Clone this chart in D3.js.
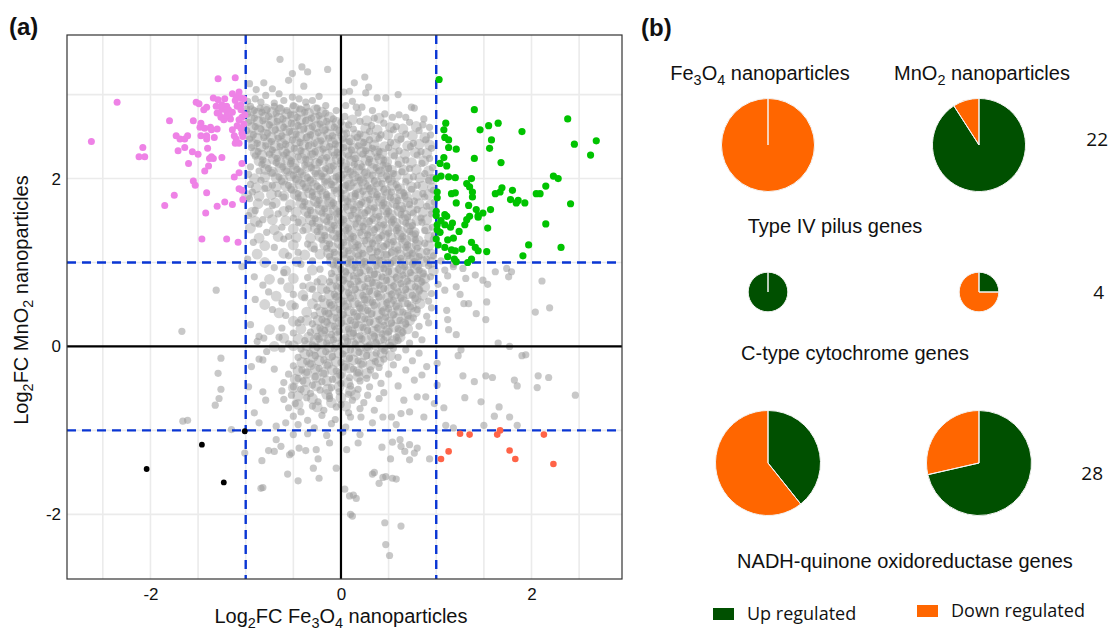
<!DOCTYPE html>
<html>
<head>
<meta charset="utf-8">
<script src="https://cdn.jsdelivr.net/npm/d3@7"></script>
<style>
  body { margin: 0; background: #fff; }
  svg text { font-family: "Liberation Sans", Arial, sans-serif; fill: #111; }
  svg text.num { font-family: "Open Sans", sans-serif; }
</style>
</head>
<body>
<svg id="chart" width="1110" height="630"></svg>
<script>
// ---- panel (a): log2 fold changes, [Fe3O4, MnO2] ----
var grayPts = [
  [-0.64,3.42],[-0.41,3.33],[-0.14,3.30],[-0.35,3.27],[-0.51,3.25],[0.25,3.21],[-0.55,3.17],[-0.81,3.14],[0.14,3.14],[-0.96,3.13],
  [-0.39,3.10],[-0.89,3.06],[-0.72,3.07],[0.29,3.09],[0.09,3.04],[0.03,3.03],[0.26,3.02],[-0.65,3.01],[0.60,3.00],
  [-0.23,2.98],[-0.79,2.99],[-0.51,2.97],[-0.37,2.91],[-0.30,2.93],[0.38,2.96],[0.47,2.96],[-0.90,2.95],[-0.98,2.92],[-0.60,2.93],[-0.70,2.90],[-0.44,2.95],[-0.84,2.91],[0.12,2.92],
  [-0.16,2.87],[0.05,2.87],[0.16,2.85],[0.22,2.85],[0.74,2.85],[0.77,2.84],[-0.43,2.83],[-0.57,2.81],[-0.05,2.81],[0.33,2.81],[-0.95,2.86],[-0.85,2.84],[-0.70,2.86],[-0.25,2.84],[-0.78,2.82],[-0.64,2.84],[-0.50,2.87],[-0.36,2.85],[-0.91,2.81],[-0.99,2.83],
  [-0.98,2.77],[-0.91,2.72],[-0.83,2.79],[-0.76,2.74],[-0.68,2.78],[-0.61,2.71],[-0.53,2.76],[-0.46,2.73],[-0.38,2.79],[-0.31,2.72],[-0.23,2.75],[-0.16,2.78],[-0.08,2.71],[0.04,2.74],[0.18,2.78],[0.35,2.72],[0.46,2.77],[0.54,2.73],[0.61,2.76],[0.68,2.73],[0.87,2.71],
  [-0.97,2.67],[-0.90,2.62],[-0.82,2.69],[-0.75,2.64],[-0.67,2.68],[-0.60,2.61],[-0.52,2.66],[-0.45,2.63],[-0.37,2.69],[-0.30,2.62],[-0.22,2.65],[-0.15,2.68],[-0.07,2.61],[0.00,2.67],[0.08,2.64],[0.20,2.68],[0.32,2.63],[0.45,2.66],[0.58,2.62],[0.72,2.67],[0.86,2.64],[0.93,2.61],
  [-0.99,2.57],[-0.92,2.52],[-0.84,2.59],[-0.77,2.54],[-0.69,2.58],[-0.62,2.51],[-0.54,2.56],[-0.47,2.53],[-0.39,2.59],[-0.32,2.52],[-0.24,2.55],[-0.17,2.58],[-0.09,2.51],[-0.02,2.57],[0.06,2.54],[0.13,2.59],[0.20,2.53],[0.30,2.56],[0.42,2.52],[0.55,2.58],[0.68,2.53],[0.82,2.57],[0.94,2.52],
  [-0.96,2.47],[-0.88,2.42],[-0.81,2.49],[-0.73,2.44],[-0.66,2.48],[-0.58,2.41],[-0.51,2.46],[-0.43,2.43],[-0.36,2.49],[-0.28,2.42],[-0.21,2.45],[-0.13,2.48],[-0.06,2.41],[0.02,2.47],[0.09,2.44],[0.17,2.49],[0.24,2.43],[0.30,2.46],[0.40,2.48],[0.52,2.43],[0.63,2.47],[0.76,2.42],[0.89,2.46],
  [-0.94,2.37],[-0.87,2.32],[-0.79,2.39],[-0.72,2.34],[-0.64,2.38],[-0.57,2.31],[-0.49,2.36],[-0.42,2.33],[-0.34,2.39],[-0.27,2.32],[-0.19,2.35],[-0.12,2.38],[-0.04,2.31],[0.03,2.37],[0.11,2.34],[0.18,2.39],[0.26,2.33],[0.33,2.36],[0.40,2.32],[0.50,2.37],[0.61,2.33],[0.73,2.38],[0.84,2.32],[0.95,2.36],
  [-0.90,2.27],[-0.82,2.22],[-0.75,2.29],[-0.67,2.24],[-0.60,2.28],[-0.52,2.21],[-0.45,2.26],[-0.37,2.23],[-0.30,2.29],[-0.22,2.22],[-0.15,2.25],[-0.07,2.28],[0.00,2.21],[0.08,2.27],[0.15,2.24],[0.23,2.29],[0.30,2.23],[0.38,2.26],[0.45,2.22],[0.56,2.27],[0.68,2.22],[0.80,2.28],[0.93,2.24],
  [-0.83,2.17],[-0.76,2.12],[-0.68,2.19],[-0.61,2.14],[-0.53,2.18],[-0.46,2.11],[-0.38,2.16],[-0.31,2.13],[-0.23,2.19],[-0.16,2.12],[-0.08,2.15],[-0.01,2.18],[0.07,2.11],[0.14,2.17],[0.22,2.14],[0.29,2.19],[0.37,2.13],[0.44,2.16],[0.50,2.12],[0.60,2.17],[0.72,2.12],[0.85,2.18],[0.96,2.13],[-0.95,2.14],
  [-0.72,2.07],[-0.65,2.02],[-0.57,2.09],[-0.50,2.04],[-0.42,2.08],[-0.35,2.01],[-0.27,2.06],[-0.20,2.03],[-0.12,2.09],[-0.05,2.02],[0.03,2.05],[0.10,2.08],[0.18,2.01],[0.25,2.07],[0.33,2.04],[0.40,2.09],[0.48,2.03],[0.55,2.06],[0.64,2.08],[0.76,2.02],[0.88,2.06],[0.97,2.01],[-0.97,2.05],[-0.86,2.09],
  [-0.62,1.97],[-0.55,1.92],[-0.47,1.99],[-0.40,1.94],[-0.32,1.98],[-0.25,1.91],[-0.17,1.96],[-0.10,1.93],[-0.02,1.99],[0.05,1.92],[0.13,1.95],[0.20,1.98],[0.28,1.91],[0.35,1.97],[0.43,1.94],[0.50,1.99],[0.58,1.93],[0.68,1.96],[0.80,1.92],[0.92,1.98],[-0.95,1.93],[-0.84,1.98],[-0.72,1.92],
  [-0.52,1.87],[-0.45,1.82],[-0.37,1.89],[-0.30,1.84],[-0.22,1.88],[-0.15,1.81],[-0.07,1.86],[0.00,1.83],[0.08,1.89],[0.15,1.82],[0.23,1.85],[0.30,1.88],[0.38,1.81],[0.45,1.87],[0.53,1.84],[0.60,1.89],[0.66,1.83],[0.74,1.87],[0.86,1.82],[0.97,1.86],[-0.93,1.84],[-0.80,1.88],[-0.66,1.82],
  [-0.45,1.77],[-0.38,1.72],[-0.30,1.79],[-0.23,1.74],[-0.15,1.78],[-0.08,1.71],[0.00,1.76],[0.07,1.73],[0.15,1.79],[0.22,1.72],[0.30,1.75],[0.37,1.78],[0.45,1.71],[0.52,1.77],[0.60,1.74],[0.67,1.79],[0.77,1.73],[0.88,1.78],[0.98,1.72],[-0.96,1.76],[-0.78,1.72],[-0.60,1.78],
  [-0.40,1.67],[-0.32,1.62],[-0.25,1.69],[-0.17,1.64],[-0.10,1.68],[-0.02,1.61],[0.05,1.66],[0.13,1.63],[0.20,1.69],[0.28,1.62],[0.35,1.65],[0.43,1.68],[0.50,1.61],[0.58,1.67],[0.65,1.64],[0.72,1.69],[0.80,1.63],[0.90,1.67],[-0.90,1.62],[-0.72,1.68],[-0.55,1.64],
  [-0.35,1.57],[-0.27,1.52],[-0.20,1.59],[-0.12,1.54],[-0.05,1.58],[0.03,1.51],[0.10,1.56],[0.18,1.53],[0.25,1.59],[0.33,1.52],[0.40,1.55],[0.48,1.58],[0.55,1.51],[0.63,1.57],[0.70,1.54],[0.76,1.59],[0.84,1.53],[0.95,1.58],[-0.97,1.56],[-0.82,1.51],[-0.66,1.58],[-0.50,1.53],
  [-0.30,1.47],[-0.22,1.42],[-0.15,1.49],[-0.07,1.44],[0.00,1.48],[0.08,1.41],[0.15,1.46],[0.23,1.43],[0.30,1.49],[0.38,1.42],[0.45,1.45],[0.53,1.48],[0.60,1.41],[0.68,1.47],[0.75,1.44],[0.85,1.48],[0.96,1.42],[-0.86,1.46],[-0.62,1.42],[-0.45,1.48],
  [-0.25,1.37],[-0.17,1.32],[-0.10,1.39],[-0.02,1.34],[0.05,1.38],[0.13,1.31],[0.20,1.36],[0.28,1.33],[0.35,1.39],[0.43,1.32],[0.50,1.35],[0.58,1.38],[0.65,1.31],[0.72,1.37],[0.78,1.34],[0.88,1.38],[0.98,1.33],[-0.78,1.36],[-0.55,1.31],[-0.40,1.38],
  [-0.20,1.27],[-0.12,1.22],[-0.05,1.29],[0.03,1.24],[0.10,1.28],[0.18,1.21],[0.25,1.26],[0.33,1.23],[0.40,1.29],[0.48,1.22],[0.55,1.25],[0.63,1.28],[0.70,1.21],[0.78,1.27],[0.88,1.23],[0.97,1.28],[-0.92,1.24],[-0.60,1.28],[-0.35,1.22],
  [-0.15,1.17],[-0.07,1.12],[0.00,1.19],[0.08,1.14],[0.15,1.18],[0.23,1.11],[0.30,1.16],[0.38,1.13],[0.45,1.19],[0.53,1.12],[0.60,1.15],[0.68,1.18],[0.75,1.11],[0.80,1.17],[0.90,1.13],[-0.70,1.18],[-0.45,1.12],[-0.28,1.16],
  [-0.12,1.07],[-0.05,1.02],[0.03,1.09],[0.10,1.04],[0.18,1.08],[0.25,1.01],[0.33,1.06],[0.40,1.03],[0.48,1.09],[0.55,1.02],[0.63,1.05],[0.70,1.08],[0.77,1.01],[0.82,1.07],[0.90,1.04],[0.97,1.08],[1.05,1.02],[1.18,0.98],[-0.98,1.04],[-0.55,1.08],[-0.30,1.02],
  [-0.08,0.97],[0.00,0.92],[0.07,0.99],[0.15,0.94],[0.22,0.98],[0.30,0.91],[0.37,0.96],[0.45,0.93],[0.52,0.99],[0.60,0.92],[0.67,0.95],[0.75,0.98],[0.82,0.91],[0.92,0.96],[1.09,0.91],[1.18,0.95],[1.28,0.93],[1.41,0.85],[1.62,0.89],[1.74,0.93],[1.79,0.89],[1.76,0.83],[-0.70,0.94],[-0.42,0.98],[-0.22,0.92],[-1.04,0.95],
  [-0.10,0.87],[-0.02,0.82],[0.05,0.89],[0.13,0.84],[0.20,0.88],[0.28,0.81],[0.35,0.86],[0.43,0.83],[0.50,0.89],[0.58,0.82],[0.65,0.85],[0.73,0.88],[0.80,0.81],[0.86,0.87],[0.94,0.83],[1.31,0.81],[1.49,0.79],[1.12,0.84],[-0.91,0.83],[-0.60,0.88],[-0.35,0.82],
  [-0.12,0.77],[-0.05,0.72],[0.03,0.79],[0.10,0.74],[0.18,0.78],[0.25,0.71],[0.33,0.76],[0.40,0.73],[0.48,0.79],[0.55,0.72],[0.63,0.75],[0.70,0.78],[0.78,0.71],[0.85,0.77],[1.02,0.74],[1.54,0.74],[2.11,0.78],[1.21,0.71],[-0.82,0.73],[-0.63,0.78],[-0.40,0.72],[-0.25,0.77],
  [-0.15,0.67],[-0.07,0.62],[0.00,0.69],[0.08,0.64],[0.15,0.68],[0.23,0.61],[0.30,0.66],[0.38,0.63],[0.45,0.69],[0.53,0.62],[0.60,0.65],[0.68,0.68],[0.75,0.61],[0.82,0.67],[0.95,0.63],[1.09,0.67],[1.25,0.62],[-1.31,0.67],[-0.76,0.65],[-0.50,0.62],[-0.30,0.68],
  [-0.20,0.57],[-0.12,0.52],[-0.05,0.59],[0.03,0.54],[0.10,0.58],[0.18,0.51],[0.25,0.56],[0.33,0.53],[0.40,0.59],[0.48,0.52],[0.55,0.55],[0.63,0.58],[0.70,0.51],[0.78,0.57],[0.92,0.54],[1.29,0.51],[1.34,0.51],[1.53,0.53],[-0.90,0.56],[-0.62,0.52],[-0.38,0.58],
  [-0.25,0.47],[-0.17,0.42],[-0.10,0.49],[-0.02,0.44],[0.05,0.48],[0.13,0.41],[0.20,0.46],[0.28,0.43],[0.35,0.49],[0.43,0.42],[0.50,0.45],[0.58,0.48],[0.65,0.41],[0.73,0.47],[0.80,0.44],[0.95,0.46],[1.11,0.43],[2.19,0.46],[2.04,0.41],[-0.72,0.44],[-0.48,0.48],
  [-0.28,0.37],[-0.20,0.32],[-0.13,0.39],[-0.05,0.34],[0.02,0.38],[0.10,0.31],[0.17,0.36],[0.25,0.33],[0.32,0.39],[0.40,0.32],[0.47,0.35],[0.55,0.38],[0.62,0.31],[0.70,0.37],[0.76,0.34],[0.90,0.36],[1.42,0.39],[1.12,0.32],[1.52,0.32],[-0.58,0.37],[-0.42,0.32],
  [-0.30,0.27],[-0.22,0.22],[-0.15,0.29],[-0.07,0.24],[0.00,0.28],[0.08,0.21],[0.15,0.26],[0.23,0.23],[0.30,0.29],[0.38,0.22],[0.45,0.25],[0.53,0.28],[0.60,0.21],[0.68,0.27],[0.82,0.24],[0.92,0.28],[1.13,0.20],[-0.95,0.26],[-0.62,0.22],[-0.45,0.28],
  [-0.32,0.17],[-0.25,0.12],[-0.17,0.19],[-0.10,0.14],[-0.02,0.18],[0.05,0.11],[0.13,0.16],[0.20,0.13],[0.28,0.19],[0.35,0.12],[0.43,0.15],[0.50,0.18],[0.58,0.11],[0.65,0.17],[0.78,0.14],[1.21,0.14],[-1.67,0.18],[-0.86,0.12],[-0.81,0.10],[-0.65,0.11],[-0.50,0.16],
  [-0.38,0.07],[-0.30,0.02],[-0.23,0.09],[-0.15,0.04],[-0.08,0.08],[0.00,0.01],[0.07,0.06],[0.15,0.03],[0.22,0.09],[0.30,0.02],[0.37,0.05],[0.45,0.08],[0.52,0.01],[0.60,0.07],[0.72,0.04],[0.85,0.08],[1.65,0.04],[1.77,0.00],[-0.88,0.06],[-0.55,0.03],
  [-0.42,-0.03],[-0.33,-0.08],[-0.25,-0.01],[-0.16,-0.06],[-0.07,-0.02],[0.02,-0.09],[0.10,-0.04],[0.19,-0.07],[0.28,-0.01],[0.37,-0.08],[0.46,-0.05],[0.55,-0.02],[-0.78,-0.06],[-0.62,-0.03],[0.68,-0.04],[0.82,-0.08],[1.26,-0.04],[1.23,-0.11],
  [-0.45,-0.13],[-0.36,-0.18],[-0.27,-0.11],[-0.18,-0.16],[-0.09,-0.12],[0.00,-0.19],[0.09,-0.14],[0.18,-0.17],[0.27,-0.11],[0.36,-0.18],[0.45,-0.15],[-1.26,-0.14],[-0.86,-0.15],[-0.82,-0.16],[0.60,-0.13],[0.75,-0.17],[1.90,-0.11],[1.94,-0.10],
  [-0.50,-0.23],[-0.41,-0.28],[-0.32,-0.21],[-0.23,-0.26],[-0.14,-0.22],[-0.05,-0.29],[0.04,-0.24],[0.13,-0.27],[0.22,-0.21],[0.31,-0.28],[0.40,-0.25],[-0.94,-0.24],[-0.70,-0.27],[0.55,-0.22],[0.68,-0.28],[0.90,-0.24],[1.01,-0.20],
  [-0.55,-0.33],[-0.45,-0.38],[-0.36,-0.31],[-0.27,-0.36],[-0.18,-0.32],[-0.09,-0.39],[0.00,-0.34],[0.09,-0.37],[0.18,-0.31],[0.27,-0.38],[0.36,-0.35],[-1.29,-0.32],[0.50,-0.33],[0.77,-0.40],[0.85,-0.34],[1.28,-0.35],[1.52,-0.35],[1.59,-0.37],[2.07,-0.35],[2.18,-0.37],
  [-0.60,-0.43],[-0.50,-0.48],[-0.40,-0.41],[-0.30,-0.46],[-0.20,-0.42],[-0.10,-0.49],[0.00,-0.44],[0.10,-0.47],[0.20,-0.41],[0.30,-0.48],[-0.97,-0.48],[0.42,-0.44],[0.60,-0.47],[1.01,-0.46],[1.40,-0.42],[1.82,-0.40],[1.85,-0.47],[2.06,-0.49],
  [-0.62,-0.53],[-0.52,-0.58],[-0.42,-0.51],[-0.32,-0.56],[-0.22,-0.52],[-0.12,-0.59],[-0.02,-0.54],[0.08,-0.57],[0.18,-0.51],[0.28,-0.58],[-1.26,-0.51],[-0.82,-0.54],[0.45,-0.55],[0.80,-0.60],[0.89,-0.60],[2.46,-0.58],[1.30,-0.61],
  [-0.60,-0.63],[-0.48,-0.68],[-0.36,-0.61],[-0.24,-0.66],[-0.12,-0.62],[0.00,-0.69],[0.12,-0.64],[0.24,-0.67],[-1.28,-0.62],[-0.79,-0.64],[0.40,-0.62],[0.66,-0.64],[0.98,-0.68],[1.47,-0.66],
  [-0.55,-0.73],[-0.42,-0.78],[-0.30,-0.71],[-0.18,-0.76],[-0.05,-0.72],[0.08,-0.79],[0.20,-0.74],[-1.32,-0.70],[0.35,-0.76],[0.63,-0.80],[0.72,-0.78],[1.08,-0.73],[1.66,-0.72],
  [-0.50,-0.83],[-0.35,-0.88],[-0.20,-0.82],[-0.06,-0.87],[0.10,-0.84],[-1.66,-0.89],[-1.61,-0.88],[-0.91,-0.79],[0.21,-0.84],[0.44,-0.84],[0.53,-0.84],[0.87,-0.84],[1.61,-0.83],[1.77,-0.84],
  [-0.45,-0.93],[-0.28,-0.97],[-0.10,-0.92],[0.05,-0.96],[-1.15,-0.99],[-0.86,-0.91],[-0.68,-0.95],[-0.58,-0.91],[0.33,-0.91],[0.58,-0.93],[1.10,-0.94],[1.18,-0.97],[1.50,-0.94],[1.85,-0.94],
  [-0.35,-1.04],[-0.15,-1.06],[0.02,-1.02],[0.20,-1.05],[-0.50,-1.05],[-1.01,-1.27],[-0.84,-1.69],[-0.83,-1.36],[-0.56,-1.52],[-0.45,-1.60],[-0.29,-1.45],[-0.24,-1.34],
  [-0.05,-1.45],[0.04,-1.70],[0.09,-1.78],[0.12,-2.02],[-0.76,-1.24],[-0.68,-1.11],[-0.54,-1.29],[-0.44,-1.21],[-0.37,-1.24],[-0.26,-1.23],[-0.70,-1.25],[-0.63,-1.19],
  [-0.52,-1.27],[-0.12,-1.15],[-0.23,-1.57],[-0.82,-1.68],[0.06,-1.23],[0.18,-1.15],[0.35,-1.50],[0.40,-1.63],[0.47,-1.55],[0.54,-1.57],[0.58,-1.58],[0.43,-1.20],
  [0.54,-1.14],[0.63,-1.19],[0.67,-1.25],[0.72,-1.35],[0.77,-1.27],[0.52,-1.34],[0.13,-1.77],[0.16,-1.81],[0.62,-1.11],[0.72,-1.17],[0.80,-1.21],[0.93,-1.34],
  [0.33,-1.52],[0.44,-1.56],[0.46,-2.10],[0.63,-2.14],[0.47,-2.36],[0.51,-2.49],[0.10,-2.00]
];

// second pass over the dense core of the cloud
var grayCore = [
  [-0.94,2.81],[-0.87,2.78],[-0.79,2.83],[-0.72,2.79],[-0.64,2.82],[-0.57,2.77],[-0.49,2.84],[-0.42,2.80],[-0.34,2.78],[-0.27,2.82],[-0.20,2.79],
  [-0.95,2.71],[-0.87,2.68],[-0.80,2.73],[-0.72,2.69],[-0.65,2.72],[-0.57,2.67],[-0.50,2.74],[-0.42,2.70],[-0.35,2.68],[-0.27,2.72],[-0.20,2.69],[-0.12,2.73],[-0.04,2.67],[0.12,2.70],[0.27,2.69],[0.40,2.72],
  [-0.93,2.61],[-0.86,2.58],[-0.78,2.63],[-0.71,2.59],[-0.63,2.62],[-0.56,2.57],[-0.48,2.64],[-0.41,2.60],[-0.33,2.58],[-0.26,2.62],[-0.18,2.59],[-0.11,2.63],[-0.03,2.57],[0.04,2.61],[0.26,2.60],[0.38,2.58],[0.52,2.61],[0.65,2.59],[0.79,2.62],
  [-0.95,2.51],[-0.88,2.48],[-0.80,2.53],[-0.73,2.49],[-0.65,2.52],[-0.58,2.47],[-0.50,2.54],[-0.43,2.50],[-0.35,2.48],[-0.28,2.52],[-0.20,2.49],[-0.13,2.53],[-0.05,2.47],[0.02,2.51],[0.10,2.46],[0.16,2.52],[0.25,2.50],[0.36,2.49],[0.49,2.52],[0.61,2.48],[0.75,2.51],[0.88,2.49],
  [-0.92,2.41],[-0.84,2.38],[-0.77,2.43],[-0.69,2.39],[-0.62,2.42],[-0.54,2.37],[-0.47,2.44],[-0.39,2.40],[-0.32,2.38],[-0.24,2.42],[-0.17,2.39],[-0.09,2.43],[-0.02,2.37],[0.06,2.41],[0.13,2.36],[0.21,2.42],[0.27,2.38],[0.35,2.40],[0.46,2.38],[0.57,2.41],[0.70,2.39],[0.82,2.41],[0.93,2.40],
  [-0.90,2.31],[-0.83,2.28],[-0.75,2.33],[-0.68,2.29],[-0.60,2.32],[-0.53,2.27],[-0.45,2.34],[-0.38,2.30],[-0.30,2.28],[-0.23,2.32],[-0.15,2.29],[-0.08,2.33],[0.00,2.27],[0.07,2.31],[0.15,2.26],[0.22,2.32],[0.30,2.28],[0.37,2.33],[0.43,2.30],[0.55,2.30],[0.67,2.29],[0.78,2.31],[0.90,2.30],
  [-0.86,2.21],[-0.79,2.18],[-0.71,2.23],[-0.64,2.19],[-0.56,2.22],[-0.49,2.17],[-0.41,2.24],[-0.34,2.20],[-0.26,2.18],[-0.19,2.22],[-0.11,2.19],[-0.04,2.23],[0.04,2.17],[0.11,2.21],[0.19,2.16],[0.26,2.22],[0.34,2.18],[0.41,2.23],[0.48,2.20],[0.62,2.20],[0.74,2.19],[0.87,2.21],
  [-0.79,2.11],[-0.72,2.08],[-0.64,2.13],[-0.57,2.09],[-0.49,2.12],[-0.42,2.07],[-0.34,2.14],[-0.27,2.10],[-0.19,2.08],[-0.12,2.12],[-0.04,2.09],[0.03,2.13],[0.11,2.07],[0.18,2.11],[0.26,2.06],[0.33,2.12],[0.41,2.08],[0.48,2.13],[0.53,2.10],[0.66,2.10],[0.79,2.11],[0.92,2.09],
  [-0.68,2.01],[-0.61,1.98],[-0.53,2.03],[-0.46,1.99],[-0.38,2.02],[-0.31,1.97],[-0.23,2.04],[-0.16,2.00],[-0.08,1.98],[-0.01,2.02],[0.07,1.99],[0.14,2.03],[0.22,1.97],[0.29,2.01],[0.37,1.96],[0.44,2.02],[0.52,1.98],[0.58,2.03],[0.70,2.00],[0.83,2.01],[0.94,1.99],[-0.91,2.00],[-0.80,2.02],
  [-0.58,1.91],[-0.51,1.88],[-0.43,1.93],[-0.36,1.89],[-0.28,1.92],[-0.21,1.87],[-0.13,1.94],[-0.06,1.90],[0.02,1.88],[0.09,1.92],[0.17,1.89],[0.24,1.93],[0.32,1.87],[0.39,1.91],[0.47,1.86],[0.54,1.92],[0.62,1.88],[0.74,1.90],[0.86,1.91],[0.96,1.89],[-0.89,1.89],[-0.78,1.91],[-0.68,1.90],
  [-0.48,1.81],[-0.41,1.78],[-0.33,1.83],[-0.26,1.79],[-0.18,1.82],[-0.11,1.77],[-0.03,1.84],[0.04,1.80],[0.12,1.78],[0.19,1.82],[0.27,1.79],[0.34,1.83],[0.42,1.77],[0.49,1.81],[0.57,1.76],[0.63,1.82],[0.69,1.78],[0.80,1.80],[0.92,1.81],[-0.99,1.80],[-0.86,1.79],[-0.73,1.81],[-0.60,1.79],
  [-0.42,1.71],[-0.34,1.68],[-0.27,1.73],[-0.19,1.69],[-0.12,1.72],[-0.04,1.67],[0.03,1.74],[0.11,1.70],[0.18,1.68],[0.26,1.72],[0.33,1.69],[0.41,1.73],[0.48,1.67],[0.56,1.71],[0.63,1.66],[0.70,1.72],[0.82,1.70],[0.94,1.69],[-0.87,1.70],[-0.69,1.71],[-0.53,1.69],
  [-0.37,1.61],[-0.29,1.58],[-0.22,1.63],[-0.14,1.59],[-0.07,1.62],[0.01,1.57],[0.08,1.64],[0.16,1.60],[0.23,1.58],[0.31,1.62],[0.38,1.59],[0.46,1.63],[0.53,1.57],[0.61,1.61],[0.68,1.56],[0.74,1.62],[0.86,1.60],[0.97,1.61],[-0.93,1.60],[-0.76,1.59],[-0.60,1.61],[-0.47,1.60],
  [-0.32,1.51],[-0.24,1.48],[-0.17,1.53],[-0.09,1.49],[-0.02,1.52],[0.06,1.47],[0.13,1.54],[0.21,1.50],[0.28,1.48],[0.36,1.52],[0.43,1.49],[0.51,1.53],[0.58,1.47],[0.66,1.51],[0.73,1.46],[0.80,1.50],[0.90,1.51],[-0.90,1.49],[-0.72,1.51],[-0.58,1.50],[-0.42,1.49],
  [-0.27,1.41],[-0.19,1.38],[-0.12,1.43],[-0.04,1.39],[0.03,1.42],[0.11,1.37],[0.18,1.44],[0.26,1.40],[0.33,1.38],[0.41,1.42],[0.48,1.39],[0.56,1.43],[0.63,1.37],[0.71,1.41],[0.77,1.36],[0.90,1.40],[-0.95,1.41],[-0.70,1.39],[-0.50,1.40],[-0.36,1.41],
  [-0.22,1.31],[-0.14,1.28],[-0.07,1.33],[0.01,1.29],[0.08,1.32],[0.16,1.27],[0.23,1.34],[0.31,1.30],[0.38,1.28],[0.46,1.32],[0.53,1.29],[0.61,1.33],[0.68,1.27],[0.75,1.31],[0.81,1.26],[0.93,1.30],[-0.86,1.29],[-0.66,1.31],[-0.47,1.30],[-0.32,1.29],
  [-0.17,1.21],[-0.09,1.18],[-0.02,1.23],[0.06,1.19],[0.13,1.22],[0.21,1.17],[0.28,1.24],[0.36,1.20],[0.43,1.18],[0.51,1.22],[0.58,1.19],[0.66,1.23],[0.73,1.17],[0.80,1.21],[0.92,1.20],[-0.80,1.20],[-0.50,1.21],[-0.30,1.19],
  [-0.13,1.11],[-0.05,1.08],[0.02,1.13],[0.10,1.09],[0.17,1.12],[0.25,1.07],[0.32,1.14],[0.40,1.10],[0.47,1.08],[0.55,1.12],[0.62,1.09],[0.70,1.13],[0.77,1.07],[0.84,1.11],[0.95,1.10],[-0.88,1.10],[-0.60,1.11],[-0.38,1.09],[-0.22,1.10],
  [-0.10,1.01],[-0.02,0.98],[0.05,1.03],[0.13,0.99],[0.20,1.02],[0.28,0.97],[0.35,1.04],[0.43,1.00],[0.50,0.98],[0.58,1.02],[0.65,0.99],[0.73,1.03],[0.80,0.97],[0.86,1.01],[0.95,1.00],[-0.80,1.00],[-0.46,1.01],
  [-0.05,0.91],[0.03,0.88],[0.10,0.93],[0.18,0.89],[0.25,0.92],[0.33,0.87],[0.40,0.94],[0.48,0.90],[0.55,0.88],[0.63,0.92],[0.70,0.89],[0.78,0.93],[0.85,0.87],[0.97,0.90],[-0.58,0.90],[-0.30,0.91],
  [-0.08,0.81],[0.00,0.78],[0.07,0.83],[0.15,0.79],[0.22,0.82],[0.30,0.77],[0.37,0.84],[0.45,0.80],[0.52,0.78],[0.60,0.82],[0.67,0.79],[0.75,0.83],[0.82,0.77],[0.88,0.81],[-0.75,0.80],[-0.50,0.81],[-0.20,0.79],
  [-0.10,0.71],[-0.02,0.68],[0.06,0.73],[0.13,0.69],[0.21,0.72],[0.28,0.67],[0.36,0.74],[0.43,0.70],[0.51,0.68],[0.58,0.72],[0.66,0.69],[0.73,0.73],[0.81,0.67],[0.88,0.71],[-0.55,0.70],[-0.32,0.71],[-0.20,0.69],
  [-0.12,0.61],[-0.04,0.58],[0.04,0.63],[0.11,0.59],[0.19,0.62],[0.26,0.57],[0.34,0.64],[0.41,0.60],[0.49,0.58],[0.56,0.62],[0.64,0.59],[0.71,0.63],[0.79,0.57],[0.86,0.61],[-0.68,0.60],[-0.40,0.61],[-0.25,0.59],
  [-0.17,0.51],[-0.09,0.48],[-0.01,0.53],[0.06,0.49],[0.14,0.52],[0.21,0.47],[0.29,0.54],[0.36,0.50],[0.44,0.48],[0.51,0.52],[0.59,0.49],[0.66,0.53],[0.74,0.47],[0.83,0.51],[-0.80,0.50],[-0.52,0.49],[-0.30,0.51],
  [-0.21,0.41],[-0.14,0.38],[-0.06,0.43],[0.01,0.39],[0.09,0.42],[0.16,0.37],[0.24,0.44],[0.31,0.40],[0.39,0.38],[0.46,0.42],[0.54,0.39],[0.61,0.43],[0.69,0.37],[0.78,0.41],[-0.65,0.40],[-0.36,0.41],
  [-0.24,0.31],[-0.16,0.28],[-0.09,0.33],[-0.01,0.29],[0.06,0.32],[0.14,0.27],[0.21,0.34],[0.29,0.30],[0.36,0.28],[0.44,0.32],[0.51,0.29],[0.59,0.33],[0.66,0.27],[0.72,0.31],[-0.50,0.30],[-0.36,0.31],
  [-0.26,0.21],[-0.19,0.18],[-0.11,0.23],[-0.04,0.19],[0.04,0.22],[0.11,0.17],[0.19,0.24],[0.26,0.20],[0.34,0.18],[0.41,0.22],[0.49,0.19],[0.56,0.23],[0.62,0.17],[0.70,0.21],[-0.75,0.20],[-0.42,0.21],
  [-0.34,0.11],[-0.27,0.08],[-0.19,0.13],[-0.12,0.09],[-0.04,0.12],[0.03,0.07],[0.11,0.14],[0.18,0.10],[0.26,0.08],[0.33,0.12],[0.41,0.09],[0.48,0.13],[0.55,0.07],[0.62,0.11],[-0.60,0.10],[-0.45,0.09],
  [-0.36,0.01],[-0.28,-0.02],[-0.20,0.03],[-0.12,-0.01],[-0.04,0.02],[0.04,-0.03],[0.12,0.04],[0.20,0.00],[0.28,-0.02],[0.36,0.02],[0.44,-0.01],[0.52,0.03],[-0.70,0.00],[-0.50,0.01],
  [-0.38,-0.09],[-0.29,-0.12],[-0.20,-0.07],[-0.11,-0.11],[-0.02,-0.08],[0.07,-0.13],[0.16,-0.06],[0.25,-0.10],[0.34,-0.12],[0.43,-0.08],[0.52,-0.11],
  [-0.41,-0.19],[-0.32,-0.22],[-0.23,-0.17],[-0.14,-0.21],[-0.05,-0.18],[0.04,-0.23],[0.13,-0.16],[0.22,-0.20],[0.31,-0.22],[0.40,-0.18],
  [-0.45,-0.29],[-0.36,-0.32],[-0.27,-0.27],[-0.18,-0.31],[-0.09,-0.28],[0.00,-0.33],[0.09,-0.26],[0.18,-0.30],[0.27,-0.32],
  [-0.48,-0.39],[-0.37,-0.42],[-0.26,-0.37],[-0.15,-0.41],[-0.04,-0.38],[0.07,-0.43],[0.18,-0.36],
  [-0.50,-0.49],[-0.38,-0.52],[-0.26,-0.47],[-0.14,-0.51],[-0.02,-0.48],[0.10,-0.53],
  [-0.45,-0.59],[-0.30,-0.62],[-0.15,-0.57],[0.00,-0.61],[0.15,-0.58],
  [-0.45,-0.69],[-0.25,-0.72],[-0.10,-0.67],[0.05,-0.71]
];

var pinkPts = [
  [-2.62,2.44],[-2.35,2.91],[-2.08,2.37],[-2.12,2.26],[-2.06,2.26],[-1.80,2.69],[-1.85,1.68],[-1.75,1.80],[-1.71,2.33],[-1.73,2.51],
  [-1.69,2.47],[-1.64,2.47],[-1.61,2.51],[-1.64,2.37],[-1.60,2.18],[-1.56,2.32],[-1.55,2.69],[-1.50,2.29],[-1.55,1.97],[-1.53,1.92],
  [-1.49,2.89],[-1.47,2.66],[-1.48,2.61],[-1.47,2.51],[-1.43,2.60],[-1.41,2.85],[-1.46,1.28],[-1.43,2.09],[-1.41,1.83],[-1.42,1.59],
  [-1.41,2.47],[-1.41,2.51],[-1.40,2.36],[-1.38,2.24],[-1.39,2.15],[-1.36,2.26],[-1.34,2.24],[-1.37,2.61],[-1.36,2.58],[-1.33,2.49],
  [-1.30,2.59],[-1.34,2.96],[-1.31,2.86],[-1.29,2.94],[-1.25,2.83],[-1.28,2.78],[-1.26,2.73],[-1.23,2.70],[-1.21,2.82],[-1.20,2.86],
  [-1.17,2.73],[-1.16,2.71],[-1.14,2.79],[-1.14,3.01],[-1.10,2.97],[-1.07,3.03],[-1.05,2.96],[-1.11,2.93],[-1.09,2.86],[-1.05,2.82],
  [-1.04,2.73],[-1.07,2.70],[-1.09,2.63],[-1.14,2.58],[-1.12,2.51],[-1.11,2.42],[-1.07,2.42],[-1.04,2.54],[-1.05,2.60],[-1.01,2.76],
  [-1.25,2.25],[-1.22,1.72],[-1.14,1.69],[-1.30,1.67],[-1.20,1.28],[-1.08,1.24],[-1.12,2.02],[-1.07,2.07],[-1.04,2.18],[-1.07,1.88],
  [-1.04,1.86],[-1.03,1.75],[-1.29,3.19],[-1.11,3.20],[-1.44,2.82],[-1.52,2.91],
  [-1.20,2.75],[-1.18,2.82],[-1.25,2.88],[-1.05,2.88],[-1.02,2.65],[-1.03,2.50],[-1.10,2.47],[-1.30,2.78],[-1.02,2.95],[-1.22,2.95]
];

var greenPts = [
  [1.03,3.18],[1.40,2.82],[1.10,2.66],[1.08,2.58],[1.09,2.49],[1.13,2.46],[1.13,2.37],[1.21,2.35],[1.08,2.25],[1.04,2.18],
  [1.11,2.15],[1.00,2.00],[1.05,2.03],[1.13,2.02],[1.20,2.01],[1.32,1.94],[1.37,2.00],[1.35,1.90],[1.38,1.84],[1.40,2.24],
  [1.46,2.58],[1.55,2.63],[1.65,2.66],[1.58,2.46],[1.56,2.36],[1.68,2.19],[1.90,2.56],[2.38,2.71],[2.45,2.41],[2.68,2.45],
  [2.62,2.28],[2.23,2.03],[2.28,2.00],[2.15,1.91],[2.05,1.82],[2.09,1.82],[2.41,1.70],[1.80,1.86],[1.69,1.89],[1.67,1.84],
  [1.62,1.82],[1.78,1.75],[1.86,1.74],[1.84,1.71],[1.93,1.71],[2.15,1.46],[1.97,1.21],[1.91,1.08],[2.31,1.18],[1.54,1.41],
  [1.57,1.63],[1.42,1.63],[1.49,1.59],[1.44,1.56],[1.44,1.54],[1.35,1.55],[1.32,1.51],[1.30,1.45],[1.34,1.68],[1.16,1.82],
  [1.20,1.83],[1.21,1.71],[1.01,1.84],[1.01,1.77],[1.00,1.61],[1.00,1.56],[1.09,1.57],[1.11,1.55],[1.05,1.50],[1.01,1.45],
  [1.09,1.45],[1.17,1.47],[1.15,1.42],[1.24,1.37],[1.18,1.29],[1.00,1.28],[1.02,1.21],[1.09,1.18],[1.12,1.27],[1.16,1.15],
  [1.20,1.14],[1.27,1.16],[1.12,1.07],[1.19,1.04],[1.21,1.01],[1.33,1.00],[1.37,1.04],[1.37,1.24],[1.41,1.18],[1.44,1.14],
  [1.53,1.13],[1.04,1.36],[1.01,1.39],[1.38,1.78]
];

var redPts = [
  [1.05,-1.34],[1.13,-1.25],[1.25,-1.04],[1.35,-1.05],[1.64,-1.05],[1.67,-1.00],[1.77,-1.24],[1.83,-1.34],[2.13,-1.05],[2.23,-1.40]
];

var blackPts = [
  [-2.04,-1.46],[-1.46,-1.17],[-1.23,-1.62],[-1.01,-1.01]
];

var xTicks = [-2, 0, 2];
var yTicks = [-2, 0, 2];
var cutoffs = [-1, 1];

// ---- panel (b): gene counts per group ----
var groups = ["Type IV pilus genes", "C-type cytochrome genes", "NADH-quinone oxidoreductase genes"];
var groupTotals = [22, 4, 28];
var fe3o4Up = [0, 4, 11];
var fe3o4Down = [22, 0, 17];
var mno2Up = [20, 1, 20];
var mno2Down = [2, 3, 8];
var conditions = ["Fe_{3}O_{4} nanoparticles", "MnO_{2} nanoparticles"];
var legendLabels = ["Up regulated", "Down regulated"];

var colUp = "#005000", colDown = "#ff6600";

var svg = d3.select("#chart");

// text with _{...} subscripts
function richText(t, str, size) {
  var parts = str.split(/_\{|\}/);
  var shift = Math.round(size * 0.25);
  parts.forEach(function(p, i) {
    var sub = i % 2 === 1;
    if (!p) return;
    t.append("tspan")
      .attr("font-size", sub ? size * 0.72 : size)
      .attr("dy", sub ? shift : (i > 0 ? -shift : 0))
      .text(p);
  });
  return t;
}

// ================= (a) scatter =================
var box = {left: 67, right: 622, top: 35, bottom: 579};
var x = d3.scaleLinear().domain([-2.876, 2.95]).range([box.left, box.right]);
var y = d3.scaleLinear().domain([-2.77, 3.71]).range([box.bottom, box.top]);

var pa = svg.append("g");

// grid
pa.append("g").selectAll("line")
  .data(d3.range(-2.5, 2.51, 0.5))
  .join("line")
    .attr("x1", d => x(d)).attr("x2", d => x(d))
    .attr("y1", box.top).attr("y2", box.bottom)
    .attr("stroke", "#ebebeb").attr("stroke-width", 1.6);
pa.append("g").selectAll("line")
  .data(d3.range(-2, 3.01, 1))
  .join("line")
    .attr("y1", d => y(d)).attr("y2", d => y(d))
    .attr("x1", box.left).attr("x2", box.right)
    .attr("stroke", "#ebebeb").attr("stroke-width", 1.6);

// gray points: the dense core drawn soft and wide so the heavy overlap reads as one mass
pa.append("g").selectAll("circle")
  .data(grayCore)
  .join("circle")
    .attr("cx", d => x(d[0])).attr("cy", d => y(d[1]))
    .attr("r", 5.4)
    .attr("fill", "#9a9a9a").attr("fill-opacity", 0.42);
pa.append("g").selectAll("circle")
  .data(grayPts)
  .join("circle")
    .attr("cx", d => x(d[0])).attr("cy", d => y(d[1]))
    .attr("r", 3.6)
    .attr("fill", "#9a9a9a").attr("fill-opacity", 0.55);

// zero lines
pa.append("line")
  .attr("x1", x(0)).attr("x2", x(0)).attr("y1", box.top).attr("y2", box.bottom)
  .attr("stroke", "#000").attr("stroke-width", 2.2);
pa.append("line")
  .attr("y1", y(0)).attr("y2", y(0)).attr("x1", box.left).attr("x2", box.right)
  .attr("stroke", "#000").attr("stroke-width", 2.2);

// cutoff lines
pa.append("g").selectAll("line")
  .data(cutoffs)
  .join("line")
    .attr("x1", d => x(d)).attr("x2", d => x(d))
    .attr("y1", box.top).attr("y2", box.bottom)
    .attr("stroke", "#0a36d4").attr("stroke-width", 2.4).attr("stroke-dasharray", "9,6");
pa.append("g").selectAll("line")
  .data(cutoffs)
  .join("line")
    .attr("y1", d => y(d)).attr("y2", d => y(d))
    .attr("x1", box.left).attr("x2", box.right)
    .attr("stroke", "#0a36d4").attr("stroke-width", 2.4).attr("stroke-dasharray", "9,6");

// coloured points
var sets = [[pinkPts, "#ee82e6", 3.5], [greenPts, "#00c300", 3.6], [redPts, "#ff6347", 3.3], [blackPts, "#000", 2.9]];
sets.forEach(function(s) {
  pa.append("g").selectAll("circle")
    .data(s[0])
    .join("circle")
      .attr("cx", d => x(d[0])).attr("cy", d => y(d[1]))
      .attr("r", s[2])
      .attr("fill", s[1]);
});

// frame
pa.append("rect")
  .attr("x", box.left).attr("y", box.top)
  .attr("width", box.right - box.left).attr("height", box.bottom - box.top)
  .attr("fill", "none").attr("stroke", "#333").attr("stroke-width", 1.2);

// axes
var xAxis = pa.append("g")
  .attr("transform", `translate(0,${box.bottom})`)
  .call(d3.axisBottom(x).tickValues(xTicks).tickSize(0).tickPadding(9).tickFormat(d => String(d)));
var yAxis = pa.append("g")
  .attr("transform", `translate(${box.left},0)`)
  .call(d3.axisLeft(y).tickValues(yTicks).tickSize(0).tickPadding(6).tickFormat(d => String(d)));
[xAxis, yAxis].forEach(function(g) {
  g.select(".domain").remove();
  g.selectAll("text")
    .attr("font-family", "Liberation Sans, Arial, sans-serif")
    .attr("font-size", 17).attr("fill", "#111");
});

richText(pa.append("text").attr("x", x(0)).attr("y", 623).attr("text-anchor", "middle"),
  "Log_{2}FC Fe_{3}O_{4} nanoparticles", 20);
richText(pa.append("text").attr("transform", "translate(28,300) rotate(-90)").attr("text-anchor", "middle"),
  "Log_{2}FC MnO_{2} nanoparticles", 20);

pa.append("text").attr("x", 9).attr("y", 35)
  .attr("font-size", 24).attr("font-weight", "bold").text("(a)");

// ================= (b) pies =================
var pb = svg.append("g");
pb.append("text").attr("x", 641).attr("y", 36)
  .attr("font-size", 24).attr("font-weight", "bold").text("(b)");

var colX = [768, 979];
var rowY = [145, 292, 463];
var headX = [760, 982];
var groupLabelX = [835, 855, 905];
var groupLabelY = [233, 360, 568];
var numX = [1108, 1104, 1103];
var numY = [139, 292, 473];

conditions.forEach(function(c, i) {
  richText(pb.append("text").attr("x", headX[i]).attr("y", 80).attr("text-anchor", "middle"), c, 20);
});

var r = d3.scaleSqrt().domain([0, d3.max(groupTotals)]).range([0, 52.5]);
var pie = d3.pie().sort(null).value(d => d);
var cols = [[fe3o4Up, fe3o4Down], [mno2Up, mno2Down]];

groups.forEach(function(gName, gi) {
  cols.forEach(function(col, ci) {
    var arcs = pie([col[0][gi], col[1][gi]]);
    var arc = d3.arc().innerRadius(0).outerRadius(r(groupTotals[gi]));
    var g = pb.append("g").attr("transform", `translate(${colX[ci]},${rowY[gi]})`);
    g.selectAll("path.fill")
      .data(arcs)
      .join("path")
        .attr("class", "fill")
        .attr("d", arc)
        .attr("fill", (d, k) => k === 0 ? colUp : colDown);
    g.selectAll("path.edge")
      .data(arcs)
      .join("path")
        .attr("class", "edge")
        .attr("d", arc)
        .attr("fill", "none")
        .attr("stroke", "#f4f4f4").attr("stroke-width", 1);
  });
  pb.append("text")
    .attr("class", "num")
    .attr("x", numX[gi]).attr("y", numY[gi])
    .attr("dy", "0.35em")
    .attr("text-anchor", "end")
    .attr("font-size", 19)
    .text(groupTotals[gi]);
  pb.append("text")
    .attr("x", groupLabelX[gi]).attr("y", groupLabelY[gi])
    .attr("text-anchor", "middle")
    .attr("font-size", 20)
    .text(gName);
});

// legend
var legX = [713, 917], legY = [608, 605];
legendLabels.forEach(function(l, i) {
  pb.append("rect")
    .attr("x", legX[i]).attr("y", legY[i])
    .attr("width", 21).attr("height", 12)
    .attr("fill", i === 0 ? colUp : colDown);
  pb.append("text")
    .attr("class", "num")
    .attr("x", legX[i] + 34).attr("y", legY[i] + 12)
    .attr("font-size", 18)
    .text(l);
});
</script>
</body>
</html>
